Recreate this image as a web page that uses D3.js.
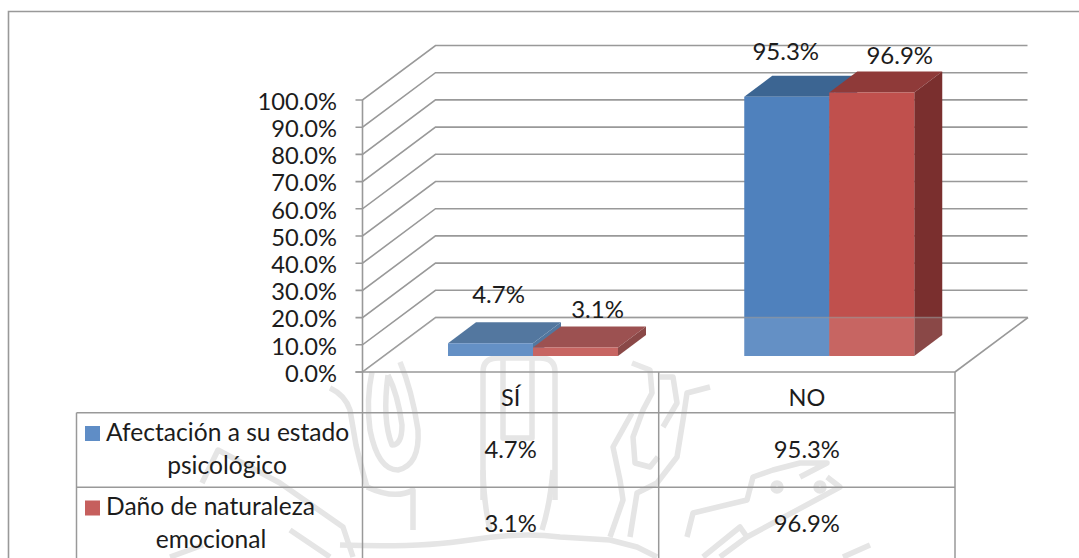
<!DOCTYPE html>
<html>
<head>
<meta charset="utf-8">
<script src="https://cdn.jsdelivr.net/npm/d3@7"></script>
<style>
html,body{margin:0;padding:0;background:#fff;overflow:hidden}
text{font-family:Lato,"Open Sans",sans-serif;fill:#1c1c1c}
</style>
</head>
<body>
<svg id="c" width="1079" height="558"></svg>
<script>
const categories = ["SÍ", "NO"];
const seriesNames = [["Afectación a su estado", "psicológico"], ["Daño de naturaleza", "emocional"]];
const afectacion = [4.7, 95.3];
const danio = [3.1, 96.9];
const ticks = [0, 10, 20, 30, 40, 50, 60, 70, 80, 90, 100];

const series = [afectacion, danio];
const palette = [
  {front:"#4f81bd", top:"#3c6592", side:"#3c6592", key:"#5f8dc6"},
  {front:"#c0504d", top:"#8f3a39", side:"#7a2f2e", key:"#c65f5d"}
];
const grid = "#999999";
const fmt = v => v.toFixed(1) + "%";

const svg = d3.select("#c");
const W = 1079, H = 558;

// Projection of the 3D box
const dx = 73, dy = -54.5;             // wall depth
const barDx = 28, barDy = -21;         // bar depth
const x0 = 362.5, x1 = 955;
const yScale = d3.scaleLinear().domain([0, 100]).range([372, 100]);
const barBase = 356;                   // bars stand forward on the floor
const height = v => yScale(0) - yScale(v);
const groupX = d3.scaleBand().domain(categories).range([x0, x1]);
const barX = d3.scaleBand().domain([0, 1]).range([85.5, 255.5]);  // inside each category

// Watermark (pale logo behind the chart)
const wm = svg.append("g").attr("fill", "none").attr("stroke", "#e5e5e5").attr("stroke-width", 5.5).attr("stroke-linejoin", "round");
[
  "M483 500V372Q483 358 498 358H540Q555 358 555 372V500",
  "M503 358V438H532V358",
  "M483 470Q484 505 490 530M553 470Q550 505 542 530",
  // left flower
  "M330 388Q345 395 350 410L356 445Q362 470 367 487",
  "M372 372Q366 400 370 430Q378 470 398 470Q420 465 418 430Q412 390 400 362",
  "M388 375Q382 420 392 445Q402 445 402 425Q398 395 388 375",
  "M367 487Q395 500 413 490V530",
  "M202 483L218 450L280 483L343 527L353 557",
  "M290 530L330 557M170 557L203 545",
  // right flower
  "M632 363L650 370L652 393L643 410L633 437L635 463L650 467L658 457",
  "M632 413L613 447L620 480L623 500L610 537",
  "M660 377H673L677 403L663 427",
  "M710 387L687 393L683 420L677 457L657 483L637 493L630 537",
  // lower bands
  "M340 545Q420 548 470 540Q520 532 560 537L610 540L637 547L657 557",
  "M687 537L693 513L747 500L753 477L773 470L800 463H827L800 477",
  "M703 557L740 527L747 537L720 557M747 537L840 487L827 477",
  "M843 557L870 545"
].forEach(d => wm.append("path").attr("d", d));
[[777, 487], [820, 487]].forEach(p => wm.append("circle").attr("cx", p[0]).attr("cy", p[1]).attr("r", 4));

// Outer frame (running off the page on the right and bottom)
svg.append("path").attr("d", `M8.5 ${H}V11.5H${W}`).attr("fill", "none").attr("stroke", grid).attr("stroke-width", 1.6);

// Gridlines: side wall, back wall, front ticks
const g = svg.append("g").attr("fill", "none").attr("stroke", grid).attr("stroke-width", 1.6);
ticks.forEach(t => {
  const y = yScale(t);
  g.append("path").attr("d", `M${x0 - 7} ${y}H${x0}L${x0 + dx} ${y + dy}H${x1 + dx - 0.5}`);
});
g.append("path").attr("d", `M${x0} ${yScale(100)}V${yScale(0)}`);

// Axis labels
svg.append("g").selectAll("text").data(ticks).join("text")
  .attr("x", 337).attr("y", d => yScale(d) + 1.5).attr("dy", "0.35em")
  .attr("text-anchor", "end").attr("font-size", 23.7).text(fmt);

// Bars: front, top, side
const barsG = svg.append("g");
series.forEach((vals, s) => {
  vals.forEach((v, c) => {
    const left = groupX(categories[c]) + barX(s);
    const right = left + barX.bandwidth();
    const top = barBase - height(v);
    const col = palette[s];
    const poly = (pts, fill) => barsG.append("polygon").attr("points", pts.map(p => p.join(",")).join(" ")).attr("fill", fill);
    poly([[left, top], [right, top], [right + barDx, top + barDy], [left + barDx, top + barDy]], col.top);
    poly([[right, top], [right + barDx, top + barDy], [right + barDx, barBase + barDy], [right, barBase]], col.side);
    poly([[left, top], [right, top], [right, barBase], [left, barBase]], col.front);
  });
});

// Translucent floor over the bars
const floor = [[x0, yScale(0)], [x1, yScale(0)], [x1 + dx, yScale(0) + dy], [x0 + dx, yScale(0) + dy]];
svg.append("polygon").attr("points", floor.map(p => p.join(",")).join(" "))
  .attr("fill", "#fff").attr("fill-opacity", 0.12).attr("stroke", "none");
svg.append("path").attr("fill", "none").attr("stroke", grid).attr("stroke-width", 1.6).attr("stroke-opacity", 0.6)
  .attr("d", `M${x0 + dx} ${yScale(0) + dy}H${floor[2][0]}`);
svg.append("path").attr("fill", "none").attr("stroke", grid).attr("stroke-width", 1.6)
  .attr("d", `M${floor[2][0]} ${floor[2][1]}L${x1} ${yScale(0)}`);

// Data labels above the bars
const nudge = [[-40, -29.5], [-36.5, -28]];  // vertical gap per category, per series
const nudgeX = [[-20, -6], [-29, 0]];        // horizontal shift from the bar centre
series.forEach((vals, s) => vals.forEach((v, c) => {
  const left = groupX(categories[c]) + barX(s);
  svg.append("text")
    .attr("x", left + barX.bandwidth() / 2 + barDx + nudgeX[c][s])
    .attr("y", barBase - height(v) + nudge[c][s])
    .attr("text-anchor", "middle").attr("font-size", 24).text(fmt(v));
}));

// Data table
const rowY = [yScale(0), 412.7, 487.2, 561.7];
const tableX = [76.5, x0, 658.7, x1];
const t = svg.append("g").attr("fill", "none").attr("stroke", grid);
t.append("line").attr("x1", x0 - 7).attr("x2", x1).attr("y1", rowY[0]).attr("y2", rowY[0]).attr("stroke-width", 1.6);
t.append("line").attr("x1", tableX[0]).attr("x2", x1).attr("y1", rowY[1]).attr("y2", rowY[1]).attr("stroke-width", 1.5);
t.append("line").attr("x1", tableX[0]).attr("x2", x1).attr("y1", rowY[2]).attr("y2", rowY[2]).attr("stroke-width", 1.5);
t.append("line").attr("x1", tableX[0]).attr("x2", tableX[0]).attr("y1", rowY[1]).attr("y2", H).attr("stroke-width", 1.5);
[x0, tableX[2], x1].forEach(x => t.append("line").attr("x1", x).attr("x2", x).attr("y1", rowY[0]).attr("y2", H).attr("stroke-width", 1.5));

const colCenter = c => (tableX[c + 1] + tableX[c + 2]) / 2;
categories.forEach((name, c) => {
  svg.append("text").attr("x", colCenter(c)).attr("y", 406).attr("text-anchor", "middle").attr("font-size", 23.5).text(name);
  series.forEach((vals, s) => {
    svg.append("text").attr("x", colCenter(c)).attr("y", (rowY[s + 1] + rowY[s + 2]) / 2 + 8)
      .attr("text-anchor", "middle").attr("font-size", 23.8).text(fmt(vals[c]));
  });
});

// Legend cells
const lineCentre = [227, 211];
seriesNames.forEach((lines, s) => {
  const top = rowY[s + 1];
  svg.append("rect").attr("x", 85).attr("y", top + 13.3).attr("width", 15).attr("height", 15).attr("fill", palette[s].key);
  svg.append("text").attr("x", 106).attr("y", top + 28).attr("font-size", 24.6).text(lines[0]);
  svg.append("text").attr("x", lineCentre[s]).attr("y", top + 61).attr("text-anchor", "middle").attr("font-size", 24.6).text(lines[1]);
});
</script>
</body>
</html>
